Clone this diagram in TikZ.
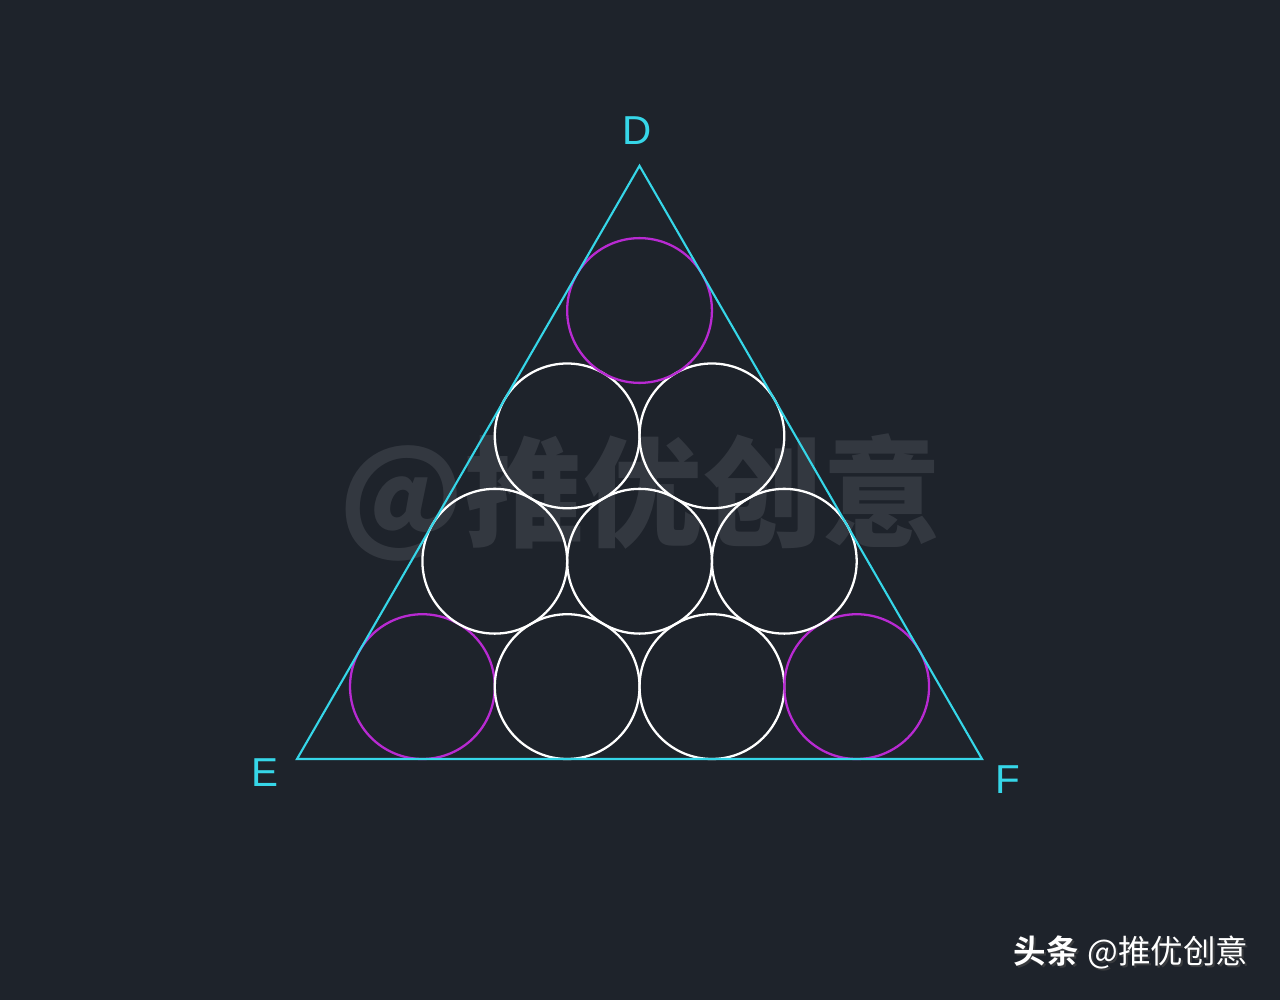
\documentclass[tikz,border=0pt]{standalone}
\usepackage{fontspec}
\setmainfont{Liberation Sans}
\newfontfamily\cjk{Noto Sans CJK SC}
\newfontfamily\cjkb{Noto Sans CJK SC Bold}
\newfontfamily\cjkblk{Noto Sans CJK SC Black}
\definecolor{bgc}{HTML}{1E232B}
\definecolor{cyanl}{HTML}{36D6E8}
\definecolor{magl}{HTML}{B82AD2}
\definecolor{wm}{HTML}{8A8E96}
\tikzset{
  tri/.style={draw=cyanl, line width=1.2pt, line join=miter},
  wcirc/.style={draw=white, line width=1.3pt},
  mcirc/.style={draw=magl, line width=1.3pt},
  lbl/.style={text=cyanl, font=\fontsize{23}{25}\selectfont, inner sep=0pt},
}
\begin{document}
\begin{tikzpicture}[x=0.02cm,y=-0.02cm]
\fill[bgc] (0,0) rectangle (1280,1000);
\useasboundingbox (0,0) rectangle (1280,1000);
\node[text=wm, opacity=0.2, font=\cjkblk\fontsize{68}{70}\selectfont, inner sep=0pt] (wmark) at (641,497) {@推优创意};
\pgfmathsetmacro{\r}{72.38}
\coordinate (D) at (639.5,165.8);
\coordinate (E) at (297,759);
\coordinate (F) at (982,759);
\foreach \k in {0,...,3}{
  \pgfmathtruncatemacro{\n}{3-\k}
  \foreach \i in {0,...,\n}{
    \pgfmathsetmacro{\cx}{422.4+\k*\r+\i*2*\r}
    \pgfmathsetmacro{\cy}{686.6-\k*\r*1.7320508}
    \pgfmathtruncatemacro{\corner}{(\k==3) || (\k==0 && (\i==0 || \i==3)) ? 1 : 0}
    \ifnum\corner=1
      \draw[mcirc] (\cx,\cy) circle[radius=\r];
    \else
      \draw[wcirc] (\cx,\cy) circle[radius=\r];
    \fi
  }
}
\draw[tri] (D) -- (E) -- (F) -- cycle;
\node[lbl] (lD) at (637,131) {D};
\node[lbl] (lE) at (265,773) {E};
\node[lbl] (lF) at (1008,780) {F};
\node[text=black!70, opacity=0.6, font=\fontsize{18.5}{20}\selectfont, inner sep=0pt] at (1133,954) {{\cjkb 头条} {\cjk @推优创意}};
\node[text=white, font=\fontsize{18.5}{20}\selectfont, inner sep=0pt] (credit) at (1131,952) {{\cjkb 头条} {\cjk @推优创意}};
\end{tikzpicture}
\end{document}
